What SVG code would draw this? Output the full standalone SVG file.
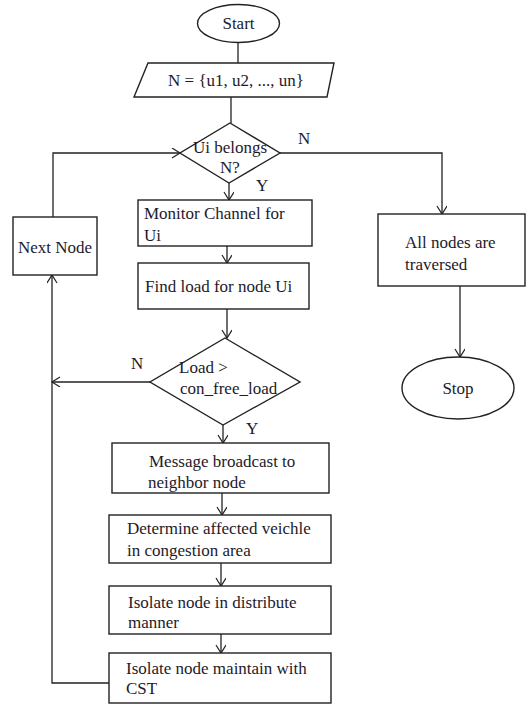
<svg xmlns="http://www.w3.org/2000/svg" width="526" height="704" viewBox="0 0 526 704">
<style>
.s{fill:#fff;stroke:#222;stroke-width:1.4}
.c{fill:none;stroke:#222;stroke-width:1.3}
text{font-family:"Liberation Serif","Times New Roman",serif;fill:#1e1a2a;font-size:17px}
.m{text-anchor:middle}
</style>
<defs>
<marker id="a" markerUnits="userSpaceOnUse" markerWidth="12" markerHeight="12" refX="9" refY="5" orient="auto">
<path d="M1,0 L9,5 L1,10" fill="none" stroke="#222" stroke-width="1.2"/>
</marker>
</defs>
<rect width="526" height="704" fill="#fff"/>
<g id="connectors">
<line class="c" x1="238" y1="42" x2="238" y2="63"/>
<line class="c" x1="231" y1="97" x2="231" y2="123"/>
<polyline class="c" points="53,217 53,153 180,153" marker-end="url(#a)"/>
<polyline class="c" points="280,153 442,153 442,214" marker-end="url(#a)"/>
<line class="c" x1="229" y1="183" x2="229" y2="200" marker-end="url(#a)"/>
<line class="c" x1="227" y1="246" x2="227" y2="263" marker-end="url(#a)"/>
<line class="c" x1="227" y1="309" x2="227" y2="338" marker-end="url(#a)"/>
<line class="c" x1="150" y1="382" x2="52" y2="382" marker-end="url(#a)"/>
<line class="c" x1="223" y1="425" x2="223" y2="443" marker-end="url(#a)"/>
<line class="c" x1="222" y1="493" x2="222" y2="515" marker-end="url(#a)"/>
<line class="c" x1="221" y1="563" x2="221" y2="586" marker-end="url(#a)"/>
<line class="c" x1="221" y1="634" x2="221" y2="653" marker-end="url(#a)"/>
<polyline class="c" points="109,683 52,683 52,275" marker-end="url(#a)"/>
<line class="c" x1="460" y1="286" x2="460" y2="357" marker-end="url(#a)"/>
<text x="298" y="144" font-size="15">N</text>
<text x="256" y="191" font-size="15">Y</text>
<text x="131" y="369" font-size="16">N</text>
<text x="246" y="434" font-size="16">Y</text>
</g>
<g id="start">
<ellipse class="s" cx="238.5" cy="23.5" rx="41" ry="19"/>
<text class="m" x="238.5" y="29" font-size="16">Start</text>
</g>
<g id="set">
<polygon class="s" points="148,63 334,63 327,97 134,97"/>
<text class="m" x="236" y="86">N = {u1, u2, ..., un}</text>
</g>
<g id="belongs">
<polygon class="s" points="230,123 280,153 229,183 180,153"/>
<text class="m" x="230" y="153" font-size="13">Ui belongs</text>
<text class="m" x="230" y="173" font-size="13">N?</text>
</g>
<g id="nextnode">
<rect class="s" x="13" y="217" width="84" height="58"/>
<text class="m" x="55" y="253" font-size="15.5">Next Node</text>
</g>
<g id="monitor">
<rect class="s" x="138" y="200" width="174" height="46"/>
<text x="144" y="219" font-size="18">Monitor Channel for</text>
<text x="144" y="241" font-size="18">Ui</text>
</g>
<g id="findload">
<rect class="s" x="138" y="263" width="171" height="46"/>
<text x="145" y="292" font-size="18">Find load for node Ui</text>
</g>
<g id="loadcheck">
<polygon class="s" points="225,338 300,382 223,425 150,382"/>
<text x="179" y="373" font-size="18">Load &gt;</text>
<text x="180" y="394" font-size="18">con_free_load</text>
</g>
<g id="alltraversed">
<rect class="s" x="378" y="214" width="147" height="72"/>
<text x="405" y="248" font-size="17.5">All nodes are</text>
<text x="405" y="270" font-size="17.5">traversed</text>
</g>
<g id="stop">
<ellipse class="s" cx="458" cy="388" rx="56" ry="31"/>
<text class="m" x="458" y="394" font-size="17">Stop</text>
</g>
<g id="broadcast">
<rect class="s" x="112" y="443" width="217" height="50"/>
<text x="149" y="467" font-size="18">Message broadcast to</text>
<text x="148" y="488" font-size="18">neighbor node</text>
</g>
<g id="determine">
<rect class="s" x="109" y="515" width="222" height="48"/>
<text x="127" y="534" font-size="18">Determine affected veichle</text>
<text x="127" y="556" font-size="18">in congestion area</text>
</g>
<g id="isolate1">
<rect class="s" x="109" y="586" width="222" height="48"/>
<text x="128" y="608" font-size="18">Isolate node in distribute</text>
<text x="128" y="628" font-size="18">manner</text>
</g>
<g id="isolate2">
<rect class="s" x="109" y="653" width="222" height="50"/>
<text x="126" y="674" font-size="18">Isolate node maintain with</text>
<text x="126" y="694" font-size="18">CST</text>
</g>
</svg>
